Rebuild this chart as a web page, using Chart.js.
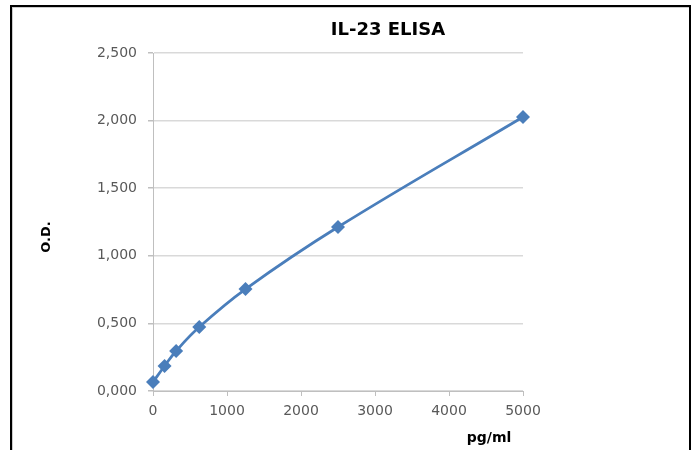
<!DOCTYPE html>
<html>
<head>
<meta charset="utf-8">
<script src="https://cdn.jsdelivr.net/npm/chart.js@4/dist/chart.umd.min.js"></script>
<style>
  html, body { margin: 0; padding: 0; background: #fff; }
  #wrap { position: relative; width: 694px; height: 450px; overflow: hidden; }
  #frame { position: absolute; left: 10px; top: 5px; width: 677px; height: 470px;
           border: 2px solid #000; box-shadow: inset 1px 1px 0 #ccc; pointer-events: none; }
  canvas { position: absolute; left: 0; top: 0; }
</style>
</head>
<body>
<div id="wrap">
  <canvas id="chart" width="694" height="450"></canvas>
  <div id="frame"></div>
</div>
<script>
// standard curve, IL-23 ELISA
const concentrations = [0, 156.25, 312.5, 625, 1250, 2500, 5000];   // pg/ml
const odValues = [0.066, 0.185, 0.296, 0.473, 0.754, 1.213, 2.027];
const xTicks = [0, 1000, 2000, 3000, 4000, 5000];
const yTicks = [0, 0.5, 1.0, 1.5, 2.0, 2.5];

const chartTitle = 'IL-23 ELISA';
const xTitle = 'pg/ml';
const yTitle = 'O.D.';

const points = concentrations.map((c, i) => ({ x: c, y: odValues[i] }));

// titles placed like the excel layout
const titlesPlugin = {
  id: 'titles',
  afterDraw(chart) {
    const ctx = chart.ctx;
    ctx.save();
    ctx.fillStyle = '#000';
    ctx.textAlign = 'center';
    ctx.textBaseline = 'middle';
    ctx.font = 'bold 18px "DejaVu Sans"';
    ctx.fillText(chartTitle, 388, 30);
    ctx.font = 'bold 14px "DejaVu Sans"';
    ctx.fillText(xTitle, 489, 438);
    ctx.translate(47, 237);
    ctx.rotate(-Math.PI / 2);
    ctx.font = 'bold 13px "DejaVu Sans"';
    ctx.fillText(yTitle, 0, 0);
    ctx.restore();
  }
};

const ctx = document.getElementById('chart').getContext('2d');
new Chart(ctx, {
  type: 'line',
  data: {
    datasets: [{
      data: points,
      borderColor: '#4a7ebb',
      backgroundColor: '#4a7ebb',
      borderWidth: 2.75,
      tension: 0.4,
      pointStyle: 'rectRot',
      pointRadius: 7,
      pointBorderWidth: 0,
      clip: false
    }]
  },
  options: {
    responsive: false,
    animation: false,
    layout: { padding: { left: 0, top: 53, right: 171, bottom: 0 } },
    plugins: { legend: { display: false }, tooltip: { enabled: false } },
    scales: {
      x: {
        type: 'linear',
        min: xTicks[0],
        max: xTicks[xTicks.length - 1],
        afterBuildTicks: s => { s.ticks = xTicks.map(v => ({ value: v })); },
        afterFit: s => { s.height = 59; },
        grid: { drawOnChartArea: false, drawTicks: true, tickLength: 5, color: '#bfbfbf' },
        border: { color: '#bfbfbf' },
        ticks: {
          color: '#595959', padding: 7,
          font: { family: 'DejaVu Sans', size: 14 },
          callback: v => String(v)
        }
      },
      y: {
        min: yTicks[0],
        max: yTicks[yTicks.length - 1],
        afterBuildTicks: s => { s.ticks = yTicks.map(v => ({ value: v })); },
        afterFit: s => { s.width = 153; },
        grid: { color: '#d9d9d9', tickColor: '#bfbfbf', tickLength: 5, lineWidth: 1.5 },
        border: { color: '#bfbfbf' },
        ticks: {
          color: '#595959', padding: 11,
          font: { family: 'DejaVu Sans', size: 14 },
          callback: v => v.toFixed(3).replace('.', ',')
        }
      }
    }
  },
  plugins: [titlesPlugin]
});
</script>
</body>
</html>
